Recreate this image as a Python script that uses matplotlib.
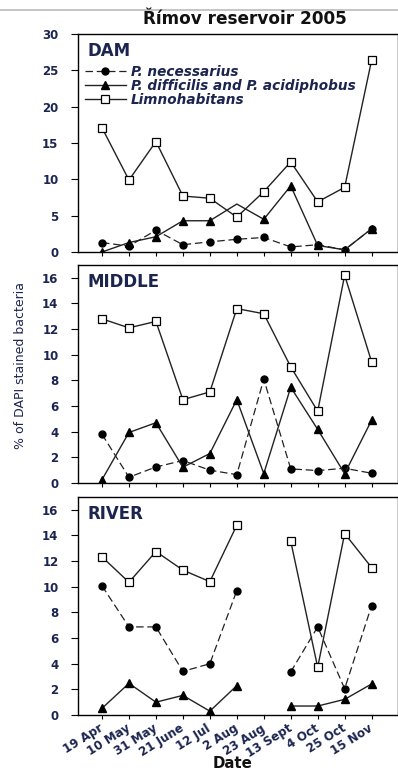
import numpy as np
import matplotlib
matplotlib.use("Agg")
import matplotlib.pyplot as plt
from matplotlib.lines import Line2D

plt.rcParams['font.family'] = ['DejaVu Sans']

dates = ["19 Apr", "10 May", "31 May", "21 June", "12 Jul", "2 Aug",
         "23 Aug", "13 Sept", "4 Oct", "25 Oct", "15 Nov"]

dam_nec = [1.3, 0.8, 3.0, 1.0, 1.4, 1.75, 2.0, 0.7, 1.0, 0.3, 3.2]
dam_dif = [0.0, 1.3, 2.1, 4.3, 4.3, 6.6, 4.5, 9.1, 0.9, 0.3, 3.2]
dam_lim = [17.1, 9.9, 15.2, 7.7, 7.4, 4.8, 8.3, 12.4, 6.9, 8.9, 26.4]

mid_nec = [3.8, 0.45, 1.25, 1.75, 1.0, 0.65, 8.1, 1.1, 0.97, 1.15, 0.76]
mid_dif = [0.26, 3.94, 4.7, 1.23, 2.3, 6.5, 0.73, 7.47, 4.18, 0.73, 4.9]
mid_lim = [12.8, 12.1, 12.6, 6.5, 7.1, 13.6, 13.2, 9.06, 5.6, 16.2, 9.45]

riv_nec = [10.07, 6.87, 6.87, 3.4, 4.0, 9.7, np.nan, 3.36, 6.87, 2.05, 8.53]
riv_dif = [0.52, 2.47, 1.0, 1.53, 0.3, 2.29, np.nan, 0.7, 0.7, 1.22, 2.42]
riv_lim = [12.33, 10.35, 12.75, 11.3, 10.4, 14.8, np.nan, 13.55, 3.72, 14.15, 11.5]

panels = [
    ("DAM", dam_nec, dam_dif, dam_lim, 30, [0, 5, 10, 15, 20, 25, 30]),
    ("MIDDLE", mid_nec, mid_dif, mid_lim, 17, [0, 2, 4, 6, 8, 10, 12, 14, 16]),
    ("RIVER", riv_nec, riv_dif, riv_lim, 17, [0, 2, 4, 6, 8, 10, 12, 14, 16]),
]

W, H = 398, 773
fig = plt.figure(figsize=(W / 100, H / 100), dpi=100)
navy = "#1b2550"
lc = "#222222"

tops = [34, 265, 497]
ph = 218
x = np.arange(len(dates))

fig.add_artist(Line2D([0, 1], [1 - 10 / H, 1 - 10 / H], color="#bbbbbb", lw=1.2))

for i, (name, nec, dif, lim, ymax, yt) in enumerate(panels):
    ax = fig.add_axes([78 / W, 1 - (tops[i] + ph) / H, (W - 78.5) / W, ph / H])
    mev = [j for j in range(len(dates)) if not (i == 0 and j == 5)]
    l1, = ax.plot(x, nec, color=lc, lw=0.9, dashes=(6, 3), marker='o', ms=5,
                  mfc='black', mec='black', label="P. necessarius")
    l2, = ax.plot(x, dif, color=lc, lw=1.0, marker='^', ms=5.5,
                  mfc='black', mec='black', markevery=mev,
                  label="P. difficilis and P. acidiphobus")
    l3, = ax.plot(x, lim, color=lc, lw=1.0, marker='s', ms=5.5,
                  mfc='white', mec='black', mew=0.9, label="Limnohabitans")
    ax.set_xlim(-0.89, 10.96)
    ax.set_ylim(0, ymax)
    ax.set_yticks(yt)
    ax.set_yticklabels([str(v) for v in yt], fontsize=8.5, fontweight='bold', color=navy)
    ax.set_xticks(x)
    ax.tick_params(axis='x', length=3, width=0.8, direction='out')
    ax.tick_params(axis='y', length=5, width=0.8, direction='out', pad=9)
    for s in ['left', 'bottom', 'top']:
        ax.spines[s].set_linewidth(1.0)
        ax.spines[s].set_color('black')
    ax.spines['right'].set_color('#cccccc')
    ax.spines['right'].set_linewidth(0.8)
    ax.text(0.03, 0.965, name, transform=ax.transAxes, fontsize=12,
            fontweight='bold', color=navy, va='top', ha='left')
    if i < 2:
        ax.set_xticklabels([])
    else:
        ax.set_xticklabels(dates, rotation=32, ha='right', va='center',
                           rotation_mode='anchor',
                           fontsize=8.6, fontweight='bold', color=navy)
        ax.tick_params(axis='x', pad=6)
    if i == 0:
        leg = ax.legend(handles=[l1, l2, l3], loc='upper left',
                        bbox_to_anchor=(0.006, 0.885), frameon=False,
                        handlelength=2.95, handletextpad=0.37, labelspacing=0.0,
                        borderaxespad=0.0,
                        prop={'size': 9.8, 'weight': 'bold', 'style': 'italic'})
        for t in leg.get_texts():
            t.set_color(navy)
    if i == 1:
        ax.set_ylabel("% of DAPI stained bacteria", fontsize=9, color=navy)
        ax.yaxis.set_label_coords(-0.16, 0.54)

fig.text(233 / W, 1 - 764 / H, "Date", fontsize=10.8, fontweight='bold',
         color="#111111", ha='center', va='center')
fig.text(245 / W, 1 - 19.5 / H, "Římov reservoir 2005", fontsize=12.2, fontweight='bold',
         color="#111111", ha='center', va='center')

fig.savefig("out.png", dpi=100)
